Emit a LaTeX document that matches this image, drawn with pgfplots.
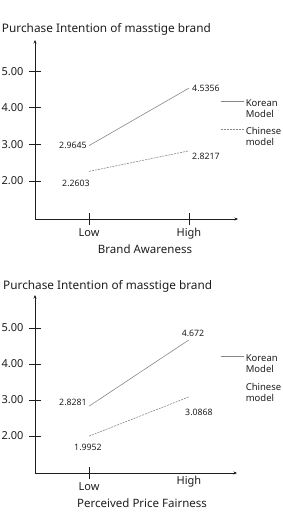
\documentclass[border=0pt]{standalone}
\usepackage{pgfplots}
\pgfplotsset{compat=1.18}
\usepackage{fontspec}
\setmainfont{Noto Sans}
\usetikzlibrary{arrows.meta}
\definecolor{txt}{RGB}{30,30,30}
\definecolor{ln}{RGB}{135,135,135}
\tikzset{vlab/.style={font=\fontsize{8.8}{10}\selectfont, text=txt}}
\pgfplotsset{
 myaxis/.style={
  scale only axis,
  axis lines=left,
  axis line style={txt, line width=0.6pt, -{Stealth[length=3.5pt,width=3pt]}},
  tick align=center, major tick length=12pt,
  tick style={txt, line width=0.6pt},
  ytick={2,3,4,5},
  yticklabels={2.00,3.00,4.00,5.00},
  /pgf/number format/assume math mode=true,
  ticklabel style={font=\fontsize{11}{12}\selectfont, text=txt},
  yticklabel style={xshift=-2pt},
  clip=false,
  label style={font=\fontsize{11.5}{13}\selectfont, text=txt},
  title style={font=\fontsize{11.8}{13}\selectfont, text=txt, anchor=west},
  legend style={draw=none, fill=none, font=\fontsize{9.5}{11}\selectfont, text=txt,
    legend cell align=left, nodes={align=left}, row sep=5pt, anchor=north west},
  legend image code/.code={\draw[#1] (0pt,8pt) -- (23pt,8pt);},
 },
 kor/.style={ln, line width=0.6pt},
 chn/.style={ln, line width=0.6pt, dash pattern=on 2pt off 1pt},
}
\begin{document}
\begin{tikzpicture}
\path[use as bounding box] (0,0) rectangle (283pt,-516pt);
% ---------- top chart
\begin{axis}[myaxis,
  at={(35pt,-219pt)}, anchor=south west,
  width=203pt, height=179pt,
  xmin=-0.54, xmax=1.49, ymin=0.96, ymax=5.85,
  xtick={0,1}, xticklabels={Low,High},
  title={Purchase Intention of masstige brand},
  title style={at={(-0.18,1.023)}},
  xlabel={Brand Awareness},
  xlabel style={at={(axis description cs:0.542,0)}, anchor=center, yshift=-30pt},
  legend style={at={(axis cs:1.28,4.34)}},
]
\addplot[kor] coordinates {(0,2.9645) (1,4.5356)};
\addlegendentry{Korean\\Model}
\addplot[chn] coordinates {(0,2.2603) (1,2.8217)};
\addlegendentry{Chinese\\model}
\node[vlab] at (axis cs:-0.16,2.98) {2.9645};
\node[vlab] at (axis cs:1.17,4.54) {4.5356};
\node[vlab] at (axis cs:-0.13,1.92) {2.2603};
\node[vlab] at (axis cs:1.17,2.68) {2.8217};
\end{axis}
% ---------- bottom chart
\begin{axis}[myaxis,
  at={(35pt,-473pt)}, anchor=south west,
  width=202pt, height=178pt,
  xmin=-0.54, xmax=1.48, ymin=0.97, ymax=5.92,
  xtick={0}, xticklabels={Low},
  extra x ticks={1}, extra x tick labels={High},
  extra x tick style={major tick length=0pt},
  title={Purchase Intention of masstige brand},
  title style={at={(-0.175,1.012)}},
  xlabel={Perceived Price Fairness},
  xlabel style={at={(axis description cs:0.53,0)}, anchor=center, yshift=-30pt},
  legend style={at={(axis cs:1.28,4.38)}},
]
\addplot[kor] coordinates {(0,2.8281) (1,4.672)};
\addlegendentry{Korean\\Model}
\addplot[chn, forget plot] coordinates {(0,1.9952) (1,3.0868)};
\addlegendimage{empty legend}
\addlegendentry{Chinese\\model}
\node[vlab] at (axis cs:-0.16,2.94) {2.8281};
\node[vlab] at (axis cs:1.04,4.86) {4.672};
\node[vlab] at (axis cs:1.10,2.67) {3.0868};
\node[vlab] at (axis cs:-0.01,1.67) {1.9952};
\end{axis}
\end{tikzpicture}
\end{document}
